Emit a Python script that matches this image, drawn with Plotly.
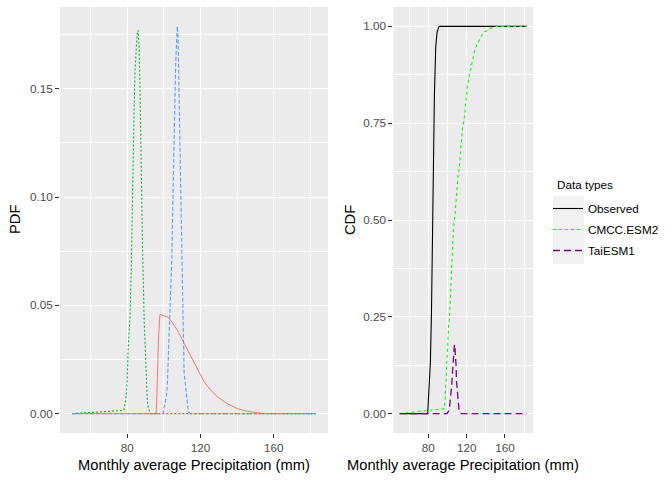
import plotly.graph_objects as go

# ---------------- data ----------------
# Left panel: PDFs
obs_pdf_x = [50, 78.2, 79.3, 80.0, 80.5, 81.1, 81.6, 82.2, 82.7, 83.3, 83.8, 84.3, 84.9,
             85.4, 86.0, 86.5, 87.0, 87.4, 87.7, 88.3, 88.8, 89.3, 89.9, 90.4, 91.0,
             91.7, 93.1, 183]
obs_pdf_y = [0, 0.0015, 0.007, 0.014, 0.029, 0.037, 0.045, 0.065, 0.095, 0.125, 0.140,
             0.158, 0.170, 0.175, 0.177, 0.169, 0.152, 0.138, 0.114, 0.082, 0.058,
             0.043, 0.030, 0.0146, 0.006, 0.002, 0, 0]

cmcc_pdf_x = [50, 95.9, 96.4, 97.1, 97.9, 100.0, 102.2, 104.0, 107.6, 111.2, 114.9,
              118.5, 122.1, 125.7, 129.3, 134.7, 140.2, 145.6, 151.0, 154.4, 183]
cmcc_pdf_y = [0, 0, 0.013, 0.0346, 0.0458, 0.0453, 0.0446, 0.0428, 0.0383, 0.0323,
              0.0261, 0.0200, 0.0146, 0.0108, 0.0077, 0.0046, 0.0023, 0.0011, 0.0005,
              0.0, 0]

tai_pdf_x = [50, 99.5, 100.4, 101.5, 102.0, 102.6, 103.1, 103.6, 104.4, 104.9, 105.5,
             106.0, 106.5, 107.1, 107.4, 107.8, 108.3, 108.9, 109.4, 110.3, 111.1,
             112.0, 112.7, 113.4, 114.5, 183]
tai_pdf_y = [0, 0, 0.0038, 0.0085, 0.0146, 0.0277, 0.0408, 0.0554, 0.0723, 0.0954,
             0.1262, 0.149, 0.1616, 0.174, 0.1788, 0.174, 0.146, 0.127, 0.083, 0.055,
             0.019, 0.011, 0.007, 0.001, 0, 0]

# Right panel: CDFs (TaiESM1 curve as drawn in the reference)
obs_cdf_x = [50, 79.3, 80.0, 81.1, 82.1, 83.2, 84.2, 85.3, 86.3, 87.7, 89.1, 91.2, 183]
obs_cdf_y = [0, 0, 0.034, 0.082, 0.133, 0.254, 0.465, 0.688, 0.822, 0.947, 0.985, 1.0, 1.0]

cmcc_cdf_x = [50, 96.8, 97.9, 98.9, 100.0, 101.1, 102.1, 103.2, 104.2, 105.3, 106.3,
              107.8, 109.5, 110.9, 112.3, 113.7, 114.7, 115.8, 117.3, 118.3, 119.4,
              120.7, 122.1, 123.9, 125.3, 127.1, 128.4, 130.5, 133.4, 135.8, 138.6,
              142.1, 147.4, 152.6, 183]
cmcc_cdf_y = [0, 0.013, 0.056, 0.120, 0.181, 0.224, 0.249, 0.310, 0.379, 0.430, 0.482,
              0.512, 0.570, 0.611, 0.637, 0.671, 0.714, 0.740, 0.757, 0.783, 0.826,
              0.843, 0.865, 0.886, 0.904, 0.921, 0.938, 0.951, 0.964, 0.977, 0.985,
              0.991, 0.998, 1.0, 1.0]

tai_cdf_x = tai_pdf_x
tai_cdf_y = tai_pdf_y

series_names = ["Observed", "CMCC.ESM2", "TaiESM1"]
x_ticks = [80, 120, 160]
pdf_ticks = [0.00, 0.05, 0.10, 0.15]
cdf_ticks = [0.00, 0.25, 0.50, 0.75, 1.00]

# ---------------- figure ----------------
W, H = 672, 480
FONT = "Liberation Sans, Arial, sans-serif"
fig = go.Figure()

# left panel (default ggplot hues)
fig.add_trace(go.Scatter(x=cmcc_pdf_x, y=cmcc_pdf_y, mode="lines", showlegend=False,
                         line=dict(color="#F8766D", width=1), xaxis="x", yaxis="y"))
fig.add_trace(go.Scatter(x=obs_pdf_x, y=obs_pdf_y, mode="lines", showlegend=False,
                         line=dict(color="#00BA38", width=1.1, dash="2px,2px"),
                         xaxis="x", yaxis="y"))
fig.add_trace(go.Scatter(x=tai_pdf_x, y=tai_pdf_y, mode="lines", showlegend=False,
                         line=dict(color="#619CFF", width=1.1, dash="4px,2px"),
                         xaxis="x", yaxis="y"))

# right panel
fig.add_trace(go.Scatter(x=obs_cdf_x, y=obs_cdf_y, mode="lines", name=series_names[0],
                         legendgroup="a", line=dict(color="black", width=1.1),
                         xaxis="x2", yaxis="y2"))
fig.add_trace(go.Scatter(x=cmcc_cdf_x, y=cmcc_cdf_y, mode="lines", name=series_names[1],
                         legendgroup="b", line=dict(color="#00FF00", width=1.1, dash="3px,3px"),
                         xaxis="x2", yaxis="y2"))
fig.add_trace(go.Scatter(x=tai_cdf_x, y=tai_cdf_y, mode="lines", name=series_names[2],
                         legendgroup="c", line=dict(color="#800080", width=1.3, dash="7px,4px"),
                         xaxis="x2", yaxis="y2"))

ydom = [(H - 433) / H, (H - 7) / H]
xr = [43.35, 189.65]

def xaxis(domain, anchor):
    return dict(domain=domain, anchor=anchor, range=xr, tickvals=x_ticks,
                showgrid=True, gridcolor="white", gridwidth=1.1, zeroline=False,
                ticks="outside", ticklen=4, tickwidth=1.1, tickcolor="#333333",
                tickfont=dict(family=FONT, size=11.7, color="#4D4D4D"),
                minor=dict(tickvals=[60, 100, 140, 180], showgrid=True,
                           gridcolor="white", gridwidth=0.55, ticks=""),
                showline=False, fixedrange=True)

def yaxis(anchor, rng, ticks, minor):
    return dict(domain=ydom, anchor=anchor, range=rng, tickvals=ticks, tickformat=".2f",
                showgrid=True, gridcolor="white", gridwidth=1.1, zeroline=False,
                ticks="outside", ticklen=4, tickwidth=1.1, tickcolor="#333333",
                tickfont=dict(family=FONT, size=11.7, color="#4D4D4D"),
                minor=dict(tickvals=minor, showgrid=True, gridcolor="white",
                           gridwidth=0.55, ticks=""),
                showline=False, fixedrange=True)

fig.update_layout(
    width=W, height=H,
    margin=dict(l=0, r=0, t=0, b=0),
    paper_bgcolor="white",
    plot_bgcolor="#EBEBEB",
    font=dict(family=FONT, color="black"),
    xaxis=xaxis([60 / W, 328 / W], "y"),
    yaxis=yaxis("x", [-0.00894, 0.18774], pdf_ticks, [0.025, 0.075, 0.125, 0.175]),
    xaxis2=xaxis([393.3 / W, 533.3 / W], "y2"),
    yaxis2=yaxis("x2", [-0.05, 1.05], cdf_ticks, [0.125, 0.375, 0.625, 0.875]),
    legend=dict(x=548 / W, y=1 - 194 / H, xanchor="left", yanchor="top",
                bgcolor="rgba(0,0,0,0)", tracegroupgap=2,
                font=dict(family=FONT, size=11.7, color="black")),
    showlegend=True,
)

# legend title and key background
fig.add_annotation(text="Data types", x=555 / W, y=1 - 184 / H, xref="paper", yref="paper",
                   showarrow=False, xanchor="left", yanchor="middle",
                   font=dict(family=FONT, size=11.7, color="black"))
fig.add_shape(type="rect", xref="paper", yref="paper",
              x0=553 / W, x1=584 / W, y0=1 - 264 / H, y1=1 - 196 / H,
              fillcolor="#F2F2F2", line=dict(width=0), layer="below")

# axis titles
title_font = dict(family=FONT, size=14.7, color="black")
fig.add_annotation(text="Monthly average Precipitation (mm)", x=194 / W, y=1 - 465 / H,
                   xref="paper", yref="paper", showarrow=False, font=title_font,
                   xanchor="center", yanchor="middle")
fig.add_annotation(text="Monthly average Precipitation (mm)", x=463 / W, y=1 - 465 / H,
                   xref="paper", yref="paper", showarrow=False, font=title_font,
                   xanchor="center", yanchor="middle")
fig.add_annotation(text="PDF", x=15 / W, y=1 - 220 / H, xref="paper", yref="paper",
                   showarrow=False, font=title_font, textangle=-90,
                   xanchor="center", yanchor="middle")
fig.add_annotation(text="CDF", x=350 / W, y=1 - 220 / H, xref="paper", yref="paper",
                   showarrow=False, font=title_font, textangle=-90,
                   xanchor="center", yanchor="middle")

fig.write_html("out.html", config={"displayModeBar": False})
